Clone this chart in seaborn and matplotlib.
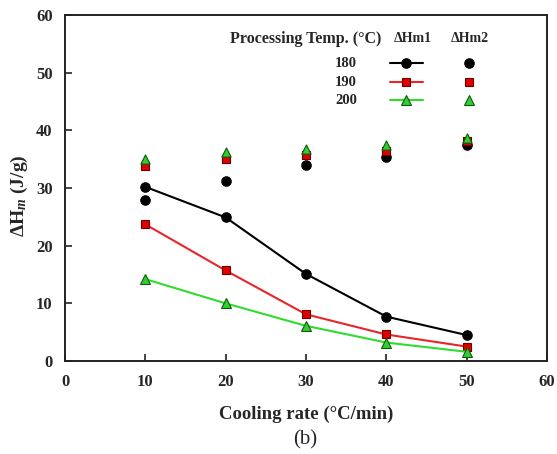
import numpy as np
import pandas as pd
import matplotlib
matplotlib.use("Agg")
import matplotlib.pyplot as plt
import seaborn as sns

# Cooling rates (°C/min) and processing temperatures (°C)
cooling_rate = [10, 20, 30, 40, 50]
temps = ["180", "190", "200"]

# ΔHm1 (J/g): first melting peak, joined by lines
hm1_180 = [30.2, 24.9, 15.1, 7.7, 4.5]
hm1_190 = [23.7, 15.7, 8.1, 4.6, 2.5]
hm1_200 = [14.2, 10.0, 6.1, 3.2, 1.6]

# ΔHm2 (J/g): second melting peak, markers only
hm2_180 = [27.9, 31.2, 34.0, 35.3, 37.4]
hm2_190 = [33.8, 35.0, 35.7, 36.4, 38.2]
hm2_200 = [35.0, 36.2, 36.7, 37.5, 38.7]

sns.set_style("ticks")
plt.rcParams["font.family"] = ["Liberation Serif", "DejaVu Serif"]
plt.rcParams["font.weight"] = "bold"
plt.rcParams["mathtext.fontset"] = "custom"
plt.rcParams["mathtext.rm"] = "Liberation Serif:bold"
plt.rcParams["mathtext.it"] = "Liberation Serif:italic:bold"

rows = []
for t, v1, v2 in zip(temps, [hm1_180, hm1_190, hm1_200], [hm2_180, hm2_190, hm2_200]):
    for x, a, b in zip(cooling_rate, v1, v2):
        rows.append({"rate": x, "temp": t, "hm1": a, "hm2": b})
df = pd.DataFrame(rows)

line_col = {"180": "#000000", "190": "#e8262a", "200": "#2fdc2f"}
face_col = {"180": "#000000", "190": "#e00000", "200": "#33cc33"}
edge_col = {"180": "#000000", "190": "#6a0000", "200": "#0b5a0b"}
marks = {"180": "o", "190": "s", "200": "^"}
msize = {"180": 6.8, "190": 6.0, "200": 6.6}

fig = plt.figure(figsize=(5.57, 4.54), dpi=100)
ax = fig.add_axes([0.1167, 0.2048, 0.8653, 0.7622])

for t in temps:
    sub = df[df["temp"] == t]
    sns.lineplot(data=sub, x="rate", y="hm1", ax=ax, color=line_col[t], lw=1.5,
                 marker=marks[t], markersize=msize[t], markerfacecolor=face_col[t],
                 markeredgecolor=edge_col[t], markeredgewidth=0.8, legend=False)
for t in temps:
    sub = df[df["temp"] == t]
    sns.scatterplot(data=sub, x="rate", y="hm2", ax=ax, marker=marks[t],
                    s=msize[t] ** 2, color=face_col[t], edgecolor=edge_col[t],
                    linewidth=0.8, legend=False, zorder=3)

ax.set_xlim(0, 60)
ax.set_ylim(0, 60)
ax.set_xticks(range(0, 61, 10))
ax.set_yticks(range(0, 61, 10))
ax.tick_params(direction="in", length=5, width=1.2, labelsize=12, pad=9)
for lab in ax.get_xticklabels() + ax.get_yticklabels():
    lab.set_fontweight("bold")
for s in ax.spines.values():
    s.set_linewidth(1.4)
    s.set_color("#222222")

ax.set_xlabel("Cooling rate (°C/min)", fontsize=13.5, fontweight="bold", labelpad=12)
ax.set_ylabel(r"ΔH$_{m}$ (J/g)", fontsize=14, fontweight="bold")
ax.yaxis.set_label_coords(-0.072, 0.477)
fig.text(0.548, 0.022, "(b)", fontsize=15, fontweight="normal", ha="center")

# Legend drawn as a small table in axes coordinates
tr = ax.transAxes
ax.text(0.656, 0.931, "Processing Temp. (°C)", transform=tr, ha="right", va="center",
        fontsize=11.5, fontweight="bold")
ax.text(0.722, 0.931, "ΔHm1", transform=tr, ha="center", va="center",
        fontsize=10, fontweight="bold")
ax.text(0.840, 0.931, "ΔHm2", transform=tr, ha="center", va="center",
        fontsize=10, fontweight="bold")
for t, yy in zip(temps, [0.861, 0.806, 0.754]):
    ax.text(0.606, yy, t, transform=tr, ha="right", va="center",
            fontsize=10.5, fontweight="bold")
    ax.plot([0.674, 0.743], [yy, yy], transform=tr, color=line_col[t], lw=1.5)
    ax.plot([0.708], [yy], transform=tr, marker=marks[t], markersize=msize[t],
            markerfacecolor=face_col[t], markeredgecolor=edge_col[t], markeredgewidth=0.8)
    ax.plot([0.838], [yy], transform=tr, marker=marks[t], markersize=msize[t],
            markerfacecolor=face_col[t], markeredgecolor=edge_col[t], markeredgewidth=0.8)

fig.savefig("out.png", dpi=100)
